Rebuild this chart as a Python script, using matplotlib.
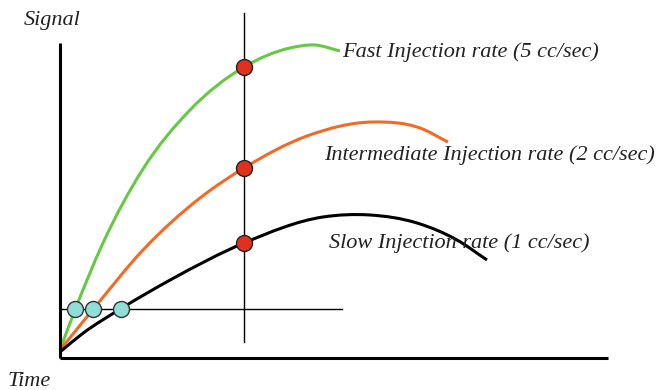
import numpy as np
import matplotlib.pyplot as plt
from matplotlib.path import Path
from matplotlib.patches import PathPatch

# curves (time, signal) in arbitrary units
fast_t = [0, 15, 43, 83, 130, 184, 230, 255, 280]
fast_s = [5, 45, 112, 186, 245, 288, 307, 310, 304]

mid_t = [0, 35, 83, 140, 184, 247, 313, 360, 388]
mid_s = [5, 48, 105, 157, 187, 219, 233, 227, 213]

slow_t = [0, 22, 62, 112, 184, 263, 310, 357, 397, 427]
slow_s = [3, 21, 47, 76, 112, 138, 140, 132, 115, 95]

# measurement time and threshold
t_meas = 184
red_s = [288, 187, 112]
threshold = 46
cyan_t = [15, 33, 61]

labels = ["Fast Injection rate (5 cc/sec)",
          "Intermediate Injection rate (2 cc/sec)",
          "Slow Injection rate (1 cc/sec)"]


def smooth_path(t, s):
    # bezier segments through the read points, tangents from neighbours
    t = np.asarray(t, float)
    s = np.asarray(s, float)
    m = np.gradient(s, t)
    verts = [(t[0], s[0])]
    codes = [Path.MOVETO]
    for i in range(len(t) - 1):
        d = (t[i + 1] - t[i]) / 3
        verts += [(t[i] + d, s[i] + m[i] * d), (t[i + 1] - d, s[i + 1] - m[i + 1] * d), (t[i + 1], s[i + 1])]
        codes += [Path.CURVE4] * 3
    return Path(verts, codes)


fig = plt.figure(figsize=(6.58, 3.9), dpi=100)
ax = fig.add_axes([0, 0, 1, 1])
ax.set_xlim(-60, 598)
ax.set_ylim(-35, 355)
ax.axis("off")

font = dict(family="Liberation Serif", style="italic", fontsize=16, color="#222222")

# axes
ax.plot([0, 0], [-3, 312], color="black", lw=2.2, solid_capstyle="butt")
ax.plot([0, 548], [-3, -3], color="black", lw=2.2, solid_capstyle="butt")

# reference lines
ax.plot([t_meas, t_meas], [13, 342], color="black", lw=1)
ax.plot([0, 282], [threshold, threshold], color="black", lw=1)

# curves
for t, s, c in [(fast_t, fast_s, "#66c845"), (mid_t, mid_s, "#f26a26"), (slow_t, slow_s, "black")]:
    ax.add_patch(PathPatch(smooth_path(t, s), fill=False, edgecolor=c, lw=2.2, capstyle="butt"))

# markers
ax.plot([t_meas] * 3, red_s, "o", ms=11.5, mfc="#e0301e", mec="#222222", mew=1, zorder=5)
ax.plot(cyan_t, [threshold] * 3, "o", ms=11.5, mfc="#8fded8", mec="#333333", mew=1, zorder=5)

# labels
ax.text(282, 303, labels[0], va="center", ha="left", **font)
ax.text(264, 200, labels[1], va="center", ha="left", **font)
ax.text(269, 112, labels[2], va="center", ha="left", **font)
ax.text(-36, 335, "Signal", va="center", ha="left", **font)
ax.text(-52, -27, "Time", va="center", ha="left", **font)

fig.savefig("out.png", dpi=100)
